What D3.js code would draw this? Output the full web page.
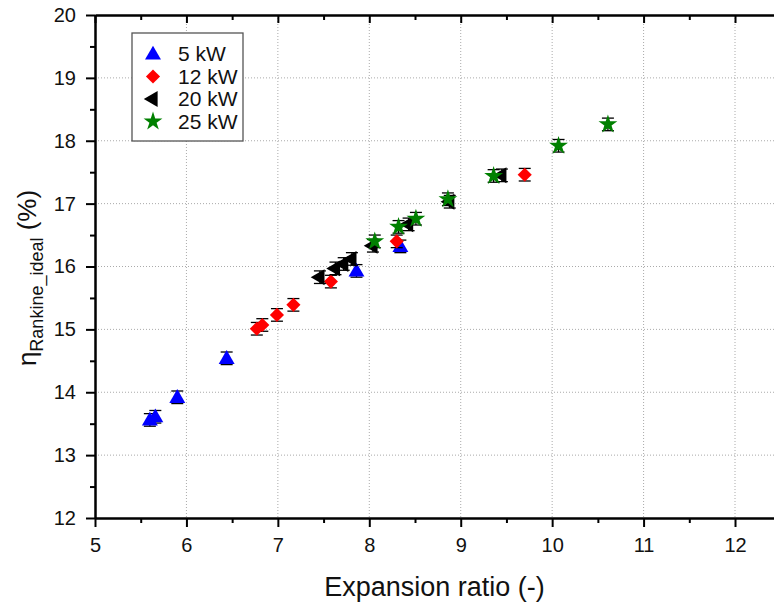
<!DOCTYPE html>
<html lang="en">
<head>
<meta charset="utf-8">
<title>Rankine efficiency vs expansion ratio</title>
<script src="https://d3js.org/d3.v7.min.js"></script>
<style>
  body { margin: 0; background: #fff; }
  text { font-family: "Liberation Sans", Arial, sans-serif; fill: #111; }
</style>
</head>
<body>
<svg width="774" height="607"></svg>
<script>
// data (expansion ratio, efficiency %)
var ratio5  = [5.60, 5.66, 5.90, 6.44, 7.86, 8.34];
var eta5    = [13.56, 13.61, 13.92, 14.54, 15.93, 16.32];
var ratio12 = [6.77, 6.83, 6.99, 7.17, 7.58, 8.30, 9.70];
var eta12   = [15.01, 15.07, 15.23, 15.39, 15.76, 16.40, 17.46];
var ratio20 = [7.46, 7.63, 7.72, 7.81, 8.04, 8.43, 8.88, 9.45];
var eta20   = [15.83, 15.97, 16.04, 16.12, 16.33, 16.67, 17.03, 17.45];
var ratio25 = [8.06, 8.32, 8.51, 8.86, 9.36, 10.07, 10.61];
var eta25   = [16.40, 16.63, 16.76, 17.07, 17.44, 17.92, 18.26];
var errBar = 0.1;

var seriesNames = ["5 kW", "12 kW", "20 kW", "25 kW"];
var xTicks = [5, 6, 7, 8, 9, 10, 11, 12];
var yTicks = [12, 13, 14, 15, 16, 17, 18, 19, 20];

var svg = d3.select("svg"),
    margin = {top: 15, right: 0, bottom: 89, left: 95},
    w = +svg.attr("width") - margin.left - margin.right,
    h = +svg.attr("height") - margin.top - margin.bottom;

var x = d3.scaleLinear().domain([5, 5 + w / 91.43]).range([0, w]),
    y = d3.scaleLinear().domain([12, 20]).range([h, 0]);

var g = svg.append("g")
    .attr("transform", "translate(" + margin.left + "," + margin.top + ")");

// dotted grid
g.append("g").selectAll("line").data(xTicks.slice(1)).enter().append("line")
    .attr("x1", function(d) { return x(d); }).attr("x2", function(d) { return x(d); })
    .attr("y1", 0).attr("y2", h)
    .attr("stroke", "#aaa").attr("stroke-width", 1).attr("stroke-dasharray", "1,2");
g.append("g").selectAll("line").data(yTicks.slice(1, -1)).enter().append("line")
    .attr("y1", function(d) { return y(d); }).attr("y2", function(d) { return y(d); })
    .attr("x1", 0).attr("x2", w)
    .attr("stroke", "#aaa").attr("stroke-width", 1).attr("stroke-dasharray", "1,2");

var minorX = d3.range(5.5, 12.5, 1), minorY = d3.range(12.5, 20, 1);

function styleAxis(sel) {
  sel.select(".domain").attr("stroke", "#000").attr("stroke-width", 2);
  sel.selectAll(".tick line").attr("stroke", "#000").attr("stroke-width", 2);
  sel.selectAll(".tick text").style("font-size", "20px").attr("fill", "#111");
}

// minor ticks
g.append("g").attr("transform", "translate(0," + h + ")")
    .call(d3.axisBottom(x).tickValues(minorX).tickSize(5).tickFormat("").tickSizeOuter(0))
    .call(styleAxis);
g.append("g")
    .call(d3.axisLeft(y).tickValues(minorY).tickSize(5).tickFormat("").tickSizeOuter(0))
    .call(styleAxis);
g.append("g")
    .call(d3.axisTop(x).tickValues(minorX).tickSize(-5).tickFormat("").tickSizeOuter(0))
    .call(styleAxis);

// major ticks
g.append("g").attr("transform", "translate(0," + h + ")")
    .call(d3.axisBottom(x).tickValues(xTicks).tickSize(9).tickPadding(11).tickSizeOuter(0))
    .call(styleAxis);
g.append("g")
    .call(d3.axisLeft(y).tickValues(yTicks).tickSize(9).tickPadding(10).tickSizeOuter(0))
    .call(styleAxis);
g.append("g")
    .call(d3.axisTop(x).tickValues(xTicks).tickSize(-8).tickFormat("").tickSizeOuter(0))
    .call(styleAxis);

// axis titles
g.append("text")
    .attr("x", w / 2).attr("y", h + 78)
    .attr("text-anchor", "middle")
    .style("font-size", "27px")
    .text("Expansion ratio (-)");

var yl = svg.append("text")
    .attr("transform", "translate(36," + 278 + ") rotate(-90)")
    .attr("text-anchor", "middle")
    .style("font-size", "26px");
yl.append("tspan").text("\u03b7");
yl.append("tspan").attr("dy", 7).style("font-size", "18px").text("Rankine_ideal");
yl.append("tspan").attr("dy", -7).text(" (%)");

// markers
var sq = d3.symbol().type(d3.symbolSquare).size(100)();
var series = [
  {xs: ratio5,  ys: eta5,  color: "#0000ff", path: d3.symbol().type(d3.symbolTriangle).size(110)(), rot: 0, dy: 1},
  {xs: ratio12, ys: eta12, color: "#ff0000", path: sq, rot: 45, dy: 0},
  {xs: ratio20, ys: eta20, color: "#000000", path: d3.symbol().type(d3.symbolTriangle).size(110)(), rot: -90, dy: 0},
  {xs: ratio25, ys: eta25, color: "#008000", path: d3.symbol().type(d3.symbolStar).size(110)(), rot: 0, dy: 0}
];

series.forEach(function(s) {
  var pts = s.xs.map(function(v, i) { return {x: v, y: s.ys[i]}; });
  var eb = g.append("g").attr("stroke", "#000").attr("stroke-width", 1.3);
  pts.forEach(function(p) {
    var cx = x(p.x), y0 = y(p.y - errBar), y1 = y(p.y + errBar);
    eb.append("line").attr("x1", cx).attr("x2", cx).attr("y1", y0).attr("y2", y1);
    eb.append("line").attr("x1", cx - 6).attr("x2", cx + 6).attr("y1", y0).attr("y2", y0);
    eb.append("line").attr("x1", cx - 6).attr("x2", cx + 6).attr("y1", y1).attr("y2", y1);
  });
  g.append("g").selectAll("path").data(pts).enter().append("path")
      .attr("d", s.path)
      .attr("fill", s.color)
      .attr("transform", function(d) {
        return "translate(" + x(d.x) + "," + (y(d.y) + s.dy) + ") rotate(" + s.rot + ")";
      });
});

// legend
var lg = svg.append("g").attr("transform", "translate(132,33)");
lg.append("rect").attr("width", 111).attr("height", 108)
    .attr("fill", "#fff").attr("stroke", "#555").attr("stroke-width", 1.3);
series.forEach(function(s, i) {
  var cy = 21 + i * 22.5;
  lg.append("path").attr("d", s.path).attr("fill", s.color)
      .attr("transform", "translate(21," + (cy + s.dy) + ") rotate(" + s.rot + ")");
  lg.append("text").attr("x", i === 0 ? 46 : 46).attr("y", cy + 7)
      .style("font-size", "21px").text(seriesNames[i]);
});
</script>
</body>
</html>
